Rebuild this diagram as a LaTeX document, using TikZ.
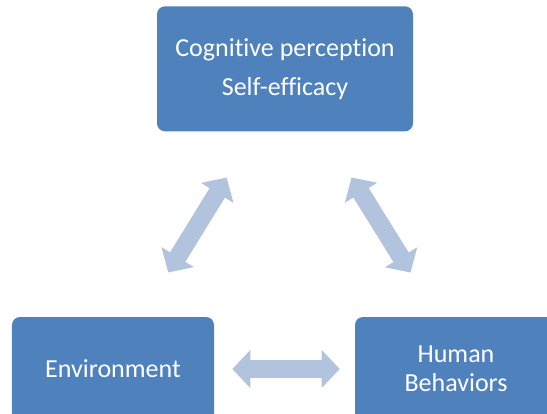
\documentclass[tikz,border=0pt]{standalone}
\usepackage{fontspec}
\setmainfont{Carlito}[Ligatures=NoCommon]
\usepackage{tikz}
\usetikzlibrary{arrows.meta}
\definecolor{boxblue}{RGB}{79,129,189}
\definecolor{arrowblue}{RGB}{178,195,222}

\begin{document}
\begin{tikzpicture}[
		box/.style={rectangle, rounded corners=0.2cm, fill=boxblue, text=white, align=center, font=\fontsize{18.5}{20.7}\selectfont},
		link/.style={arrowblue, line width=0.45cm, {Triangle[width=0.925cm,length=0.45cm]}-{Triangle[width=0.925cm,length=0.45cm]}}
		]
		
		% рамка рисунка
		\clip (0,0) rectangle (13.675,-10.325);
		
		% Блоки
		\node[box, minimum width=6.4cm, minimum height=3.125cm] (cog) at (7.125,-1.72) {Cognitive perception\\[7pt]Self-efficacy};
		\node[box, minimum width=5.05cm, minimum height=2.6cm] (env) at (2.825,-9.225) {Environment};
		\node[box, minimum width=5.05cm, minimum height=2.6cm] (hb) at (11.4,-9.225) {Human\\Behaviors};
		
		% Двойные стрелки между блоками
		\draw[link, shorten <=1.3cm, shorten >=1.35cm] ([xshift=0.7cm]env.north) -- ([xshift=-0.75cm]cog.south);
		\draw[link, shorten <=1.35cm, shorten >=1.3cm] ([xshift=0.95cm]cog.south) -- ([xshift=-0.45cm]hb.north);
		\draw[link, shorten <=0.45cm, shorten >=0.375cm] (env.east) -- (hb.west);
		
	\end{tikzpicture}
\end{document}
